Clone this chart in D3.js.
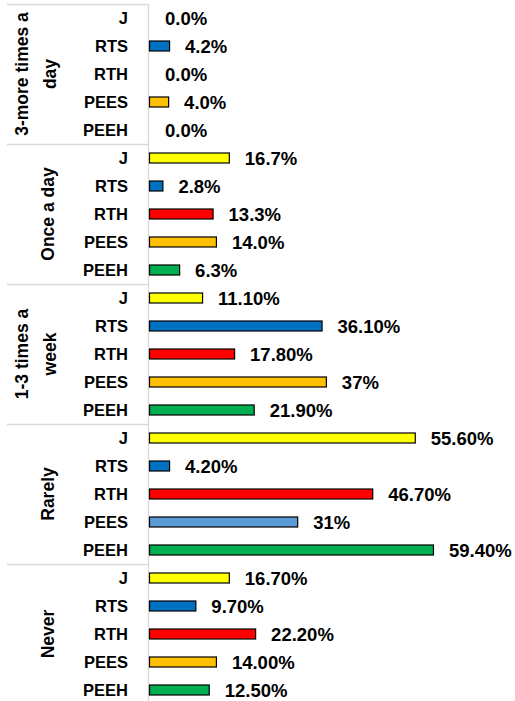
<!DOCTYPE html>
<html><head><meta charset="utf-8">
<script src="https://cdn.jsdelivr.net/npm/d3@7"></script>
<style>body{margin:0;background:#fff}svg{display:block}</style>
</head><body>
<script>
const groups = ["3-more times a day", "Once a day", "1-3 times a week", "Rarely", "Never"];
const groupLines = [["3-more times a", "day"], ["Once a day"], ["1-3 times a", "week"], ["Rarely"], ["Never"]];
const items = ["J", "RTS", "RTH", "PEES", "PEEH"];
const values3More = [0, 4.2, 0, 4.0, 0];
const valuesOnce = [16.7, 2.8, 13.3, 14.0, 6.3];
const valuesWeek = [11.1, 36.1, 17.8, 37, 21.9];
const valuesRarely = [55.6, 4.2, 46.7, 31, 59.4];
const valuesNever = [16.7, 9.7, 22.2, 14.0, 12.5];
const labels3More = ["0.0%", "4.2%", "0.0%", "4.0%", "0.0%"];
const labelsOnce = ["16.7%", "2.8%", "13.3%", "14.0%", "6.3%"];
const labelsWeek = ["11.10%", "36.10%", "17.80%", "37%", "21.90%"];
const labelsRarely = ["55.60%", "4.20%", "46.70%", "31%", "59.40%"];
const labelsNever = ["16.70%", "9.70%", "22.20%", "14.00%", "12.50%"];
const itemColors = ["#FFFF00", "#0070C0", "#FF0000", "#FFC000", "#00B050"];
const rarelyPeesColor = "#5B9BD5";

const allValues = [values3More, valuesOnce, valuesWeek, valuesRarely, valuesNever];
const allLabels = [labels3More, labelsOnce, labelsWeek, labelsRarely, labelsNever];

const rows = [];
groups.forEach((g, gi) => items.forEach((it, ii) => {
  rows.push({
    key: gi + "-" + it, group: g, gi, item: it, v: allValues[gi][ii], label: allLabels[gi][ii],
    color: (g === "Rarely" && it === "PEES") ? rarelyPeesColor : itemColors[ii]
  });
}));

const W = 515, H = 701;
const svg = d3.select("body").append("svg").attr("width", W).attr("height", H);
const axisX = 148;
const plotTop = 4, plotBottom = 704;
const y = d3.scaleBand().domain(rows.map(d => d.key)).range([plotTop, plotBottom]).padding(0);
const x = d3.scaleLinear().domain([0, 70]).range([149, 149 + 70 * 4.78]);
const gy = d3.scaleBand().domain(groups).range([plotTop, plotBottom]);

const grid = "#d9d9d9";
svg.selectAll("line.sep").data(groups).join("line")
  .attr("x1", 7).attr("x2", axisX).attr("y1", d => gy(d) + 0.5).attr("y2", d => gy(d) + 0.5)
  .attr("stroke", grid).attr("stroke-width", 1.3);
svg.append("line").attr("x1", axisX + 0.5).attr("x2", axisX + 0.5).attr("y1", plotTop).attr("y2", H)
  .attr("stroke", grid).attr("stroke-width", 1.3);

const barH = 10;
svg.selectAll("rect.bar").data(rows.filter(d => d.v > 0)).join("rect")
  .attr("x", x(0) + 0.5).attr("y", d => y(d.key) + y.bandwidth() / 2 - barH / 2)
  .attr("width", d => x(d.v) - x(0)).attr("height", barH)
  .attr("fill", d => d.color).attr("stroke", "#000").attr("stroke-width", 1.2);

svg.selectAll("text.val").data(rows).join("text")
  .attr("x", d => x(d.v) + 16).attr("y", d => y(d.key) + y.bandwidth() / 2)
  .attr("dy", "0.36em")
  .attr("font-family", "Liberation Sans, Arial, sans-serif").attr("font-weight", "bold")
  .attr("font-size", 18.5).attr("fill", "#000").text(d => d.label);

svg.selectAll("text.cat").data(rows).join("text")
  .attr("x", 128).attr("y", d => y(d.key) + y.bandwidth() / 2)
  .attr("dy", "0.36em").attr("text-anchor", "end")
  .attr("font-family", "Liberation Sans, Arial, sans-serif").attr("font-weight", "bold")
  .attr("font-size", 16.5).attr("fill", "#000").text(d => d.item);

groups.forEach((g, gi) => {
  const cy = gy(g) + gy.bandwidth() / 2;
  const lines = groupLines[gi];
  const xs = lines.length === 2 ? [22, 50] : [48];
  lines.forEach((ln, li) => {
    svg.append("text")
      .attr("transform", `translate(${xs[li]},${cy}) rotate(-90)`)
      .attr("text-anchor", "middle").attr("dy", "0.36em")
      .attr("font-family", "Liberation Sans, Arial, sans-serif").attr("font-weight", "bold")
      .attr("font-size", 17.5).attr("fill", "#000").text(ln);
  });
});
</script>
</body></html>
